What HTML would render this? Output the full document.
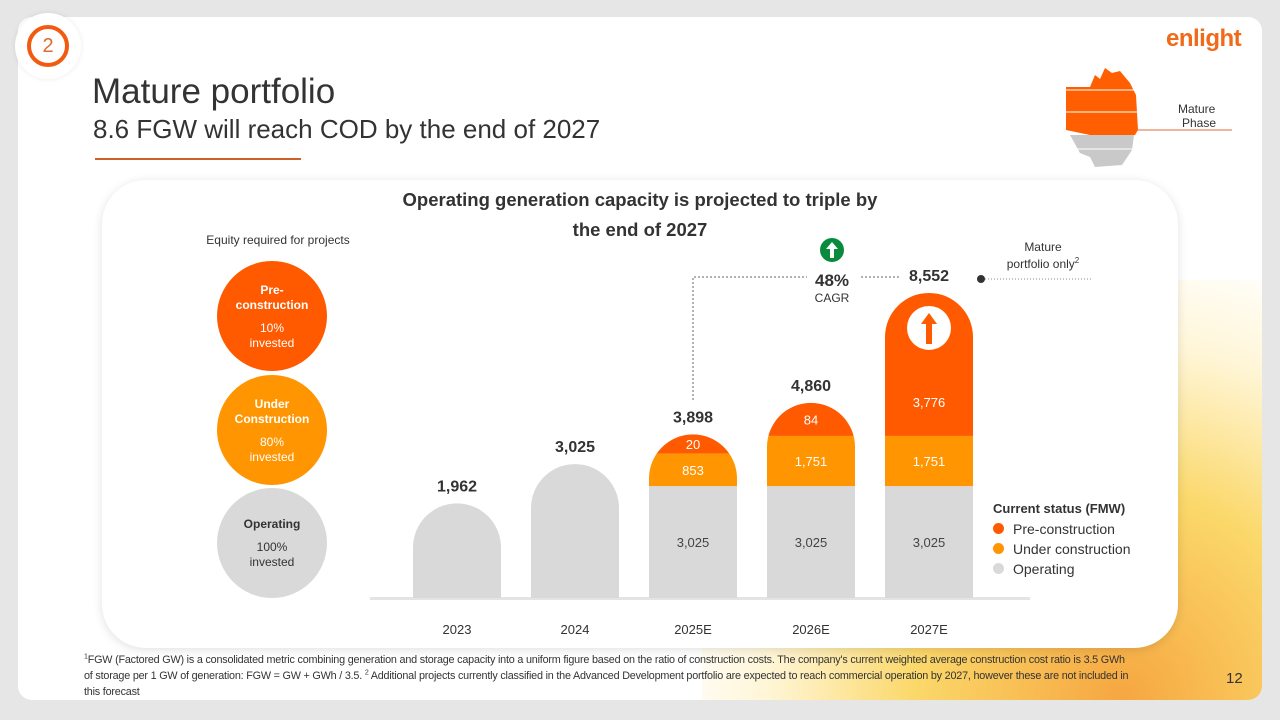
<!DOCTYPE html>
<html><head><meta charset="utf-8"><style>
*{margin:0;padding:0;box-sizing:border-box}
body{width:1280px;height:720px;background:#e6e6e6;font-family:"Liberation Sans",sans-serif;position:relative;overflow:hidden;color:#333}
.abs{position:absolute}
</style></head><body>
<div class="abs" style="left:18px;top:17px;width:1244px;height:683px;background:#fff;border-radius:14px;overflow:hidden">
  <div class="abs" style="left:684px;top:263px;width:560px;height:420px;background:radial-gradient(ellipse at 75% 100%,#f6a640 0%,#fbd86a 35%,rgba(255,240,190,0.6) 60%,rgba(255,255,255,0) 78%)"></div>
</div>
<div class="abs" style="left:15px;top:13px;width:66px;height:66px;border-radius:50%;background:#fff;box-shadow:0 0 6px rgba(0,0,0,0.08)"></div>
<div class="abs" style="left:27px;top:25px;width:42px;height:42px;border-radius:50%;border:4px solid #f25a10;color:#e06a30;font-size:20px;text-align:center;line-height:34px">2</div>
<div class="abs" style="left:92px;top:72px;font-size:35px;color:#333">Mature portfolio</div>
<div class="abs" style="left:93px;top:114px;font-size:26px;color:#333">8.6 FGW will reach COD by the end of 2027</div>
<div class="abs" style="left:95px;top:158px;width:206px;height:2px;background:#d0602a"></div>
<div class="abs" style="left:1166px;top:25px;font-size:24px;font-weight:bold;color:#f06a1a;letter-spacing:-0.5px">enlight</div>
<svg class="abs" style="left:1060px;top:65px" width="180" height="110">
  <path d="M6,22 L30,22 L35,10 L40,14 L45,3 L52,8 L60,6 L70,18 L76,30 L78,65 L75,70 L30,70 L6,65 Z" fill="#ff5f00"/>
  <path d="M10,70 L74,70 L72,85 L62,100 L35,102 L30,92 L20,88 Z" fill="#c9c9c9"/>
  <line x1="6" y1="25" x2="76" y2="25" stroke="#fff" stroke-width="1"/>
  <line x1="6" y1="47" x2="78" y2="47" stroke="#fff" stroke-width="1"/>
  <line x1="10" y1="84" x2="72" y2="84" stroke="#fff" stroke-width="1"/>
  <line x1="78" y1="65" x2="172" y2="65" stroke="#e06a30" stroke-width="1"/>
  <text x="118" y="48" font-size="12" fill="#333" font-family="Liberation Sans">Mature</text>
  <text x="122" y="62" font-size="12" fill="#333" font-family="Liberation Sans">Phase</text>
</svg>
<div class="abs" style="left:102px;top:180px;width:1076px;height:468px;background:#fff;border-radius:44px;box-shadow:0 2px 10px rgba(0,0,0,0.12)"></div>
<div class="abs" style="left:370px;top:185px;width:540px;text-align:center;font-size:18.5px;font-weight:bold;line-height:30px;color:#333">Operating generation capacity is projected to triple by<br>the end of 2027</div>
<div class="abs" style="left:180px;top:233px;width:196px;text-align:center;font-size:12px">Equity required for projects</div>
<div class="abs" style="left:217px;top:261px;width:110px;height:110px;border-radius:50%;background:#ff5a00;color:#fff;text-align:center;font-size:12px;padding-top:22px;line-height:15px"><b>Pre-<br>construction</b><br><div style="height:8px"></div>10%<br>invested</div>
<div class="abs" style="left:217px;top:375px;width:110px;height:110px;border-radius:50%;background:#ff9500;color:#fff;text-align:center;font-size:12px;padding-top:22px;line-height:15px"><b>Under<br>Construction</b><br><div style="height:8px"></div>80%<br>invested</div>
<div class="abs" style="left:217px;top:488px;width:110px;height:110px;border-radius:50%;background:#d9d9d9;color:#333;text-align:center;font-size:12px;padding-top:29px;line-height:15px"><b>Operating</b><br><div style="height:8px"></div>100%<br>invested</div>

<svg class="abs" id="chart" style="left:0;top:0" width="1280" height="720"></svg>

<div class="abs" style="left:993px;top:499px;font-size:14px;line-height:20px">
  <div style="font-weight:bold;font-size:13px">Current status (FMW)</div>
  <div><span style="display:inline-block;width:11px;height:11px;border-radius:50%;background:#ff5a00;margin-right:9px"></span>Pre-construction</div>
  <div><span style="display:inline-block;width:11px;height:11px;border-radius:50%;background:#ff9500;margin-right:9px"></span>Under construction</div>
  <div><span style="display:inline-block;width:11px;height:11px;border-radius:50%;background:#d9d9d9;margin-right:9px"></span>Operating</div>
</div>
<div class="abs" style="left:84px;top:652px;width:1050px;height:48px;overflow:hidden;font-size:10.8px;letter-spacing:-0.2px;line-height:16px;color:#333"><sup style="font-size:7px;line-height:0">1</sup>FGW (Factored GW) is a consolidated metric combining generation and storage capacity into a uniform figure based on the ratio of construction costs. The company's current weighted average construction cost ratio is 3.5 GWh of storage per 1 GW of generation: FGW = GW + GWh / 3.5. <sup style="font-size:7px;line-height:0">2</sup> Additional projects currently classified in the Advanced Development portfolio are expected to reach commercial operation by 2027, however these are not included in this forecast</div>
<div class="abs" style="left:1226px;top:670px;font-size:15px">12</div>

<script>
const categories=["2023","2024","2025E","2026E","2027E"];
const operating=[1962,3025,3025,3025,3025];
const underConstruction=[0,0,853,1751,1751];
const preConstruction=[0,0,20,84,3776];
const totals=["1,962","3,025","3,898","4,860","8,552"];
const ns="http://www.w3.org/2000/svg";
const svg=document.getElementById('chart');
const baseY=598,barW=88,x0=457,dx=118;
function xPos(i){return x0+i*dx;}
function hOp(v){return v*0.037;}
function hUnder(v){return v>0?16+v*0.0195:0;}
function hPre(v){return v>0?6*Math.pow(v,0.385):0;}
function mk(t,a){const e=document.createElementNS(ns,t);for(const k in a)e.setAttribute(k,a[k]);svg.appendChild(e);return e;}
const defs=mk('defs',{});
const bl=mk('rect',{x:370,y:597,width:660,height:3,fill:'#e4e4e4'});


const colors=['#d9d9d9','#ff9500','#ff5a00'];
const txtCol=['#444','#fff','#fff'];
categories.forEach((c,i)=>{
  const segs=[operating[i],underConstruction[i],preConstruction[i]];
  const single=segs[1]===0&&segs[2]===0;
  let hs=[hOp(segs[0])+(single?22:0),hUnder(segs[1]),hPre(segs[2])];
  const tot=hs.reduce((a,b)=>a+b,0);
  const cx=xPos(i),left=cx-barW/2,top=baseY-tot,r=barW/2;
  const cp=document.createElementNS(ns,'clipPath');cp.setAttribute('id','cp'+i);
  const p=document.createElementNS(ns,'path');
  p.setAttribute('d',`M${left},${baseY} L${left},${top+r} A${r},${r} 0 0 1 ${left+barW},${top+r} L${left+barW},${baseY} Z`);
  cp.appendChild(p);defs.appendChild(cp);
  const g=mk('g',{'clip-path':`url(#cp${i})`});
  
  
  let y=baseY;
  segs.forEach((v,k)=>{
    if(hs[k]<=0)return;
    const isTop=(k===2)||(single&&k===0);
    const extra=isTop?r:0;
    const rc=document.createElementNS(ns,'rect');
    rc.setAttribute('x',left);rc.setAttribute('y',y-hs[k]-extra);rc.setAttribute('width',barW);rc.setAttribute('height',hs[k]+extra);rc.setAttribute('fill',colors[k]);
    
    
    g.appendChild(rc);
    if(i>=2){
      const ly=k===2?y-Math.min(hs[k]/2,34)+5:y-hs[k]/2+5;
      const t=mk('text',{x:cx,y:ly,'text-anchor':'middle','font-size':13,fill:txtCol[k],'font-family':'Liberation Sans'});
      t.textContent=v.toLocaleString('en-US');
      
      
    }
    y-=hs[k];
  });
  const tl=mk('text',{x:cx,y:top-12,'text-anchor':'middle','font-size':16,'font-weight':'bold',fill:'#333','font-family':'Liberation Sans'});
  tl.textContent=totals[i];
  
  
  const xl=mk('text',{x:cx,y:634,'text-anchor':'middle','font-size':13,fill:'#333','font-family':'Liberation Sans'});
  xl.textContent=c;
  
  
  if(i===4){
    const ic=mk('circle',{cx:cx,cy:top+35,r:22,fill:'#fff'});
    
    
    mk('path',{d:`M${cx},${top+20} L${cx-8},${top+31} L${cx-3},${top+31} L${cx-3},${top+51} L${cx+3},${top+51} L${cx+3},${top+31} L${cx+8},${top+31} Z`,fill:'#ff5a00'});
  }
});
const c1=mk('path',{d:`M${xPos(2)},400 L${xPos(2)},277 L807,277 M861,277 L900,277`,stroke:'#666','stroke-width':1,'stroke-dasharray':'2,2',fill:'none'});


const gi=mk('circle',{cx:832,cy:250,r:12,fill:'#0a8a3c'});


mk('path',{d:'M832,242 L826,249 L830,249 L830,258 L834,258 L834,249 L838,249 Z',fill:'#fff'});
const cg=mk('text',{x:832,y:286,'text-anchor':'middle','font-size':17,'font-weight':'bold',fill:'#333','font-family':'Liberation Sans'});
cg.textContent='48%';


const cl=mk('text',{x:832,y:302,'text-anchor':'middle','font-size':12,fill:'#333','font-family':'Liberation Sans'});
cl.textContent='CAGR';


const dot=mk('circle',{cx:981,cy:279,r:4,fill:'#333'});


mk('line',{x1:985,y1:279,x2:1092,y2:279,stroke:'#888','stroke-width':1,'stroke-dasharray':'1,2'});
const n1=mk('text',{x:1043,y:251,'text-anchor':'middle','font-size':12,fill:'#333','font-family':'Liberation Sans'});
n1.textContent='Mature';


const n2=mk('text',{x:1043,y:268,'text-anchor':'middle','font-size':12,fill:'#333','font-family':'Liberation Sans'});
n2.innerHTML='portfolio only<tspan font-size="8" dy="-5">2</tspan>';


</script>
</body></html>
